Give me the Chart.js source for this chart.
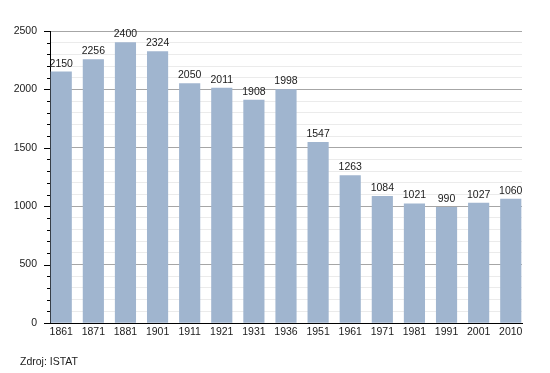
<!DOCTYPE html>
<html><head><meta charset="utf-8">
<script src="https://cdn.jsdelivr.net/npm/chart.js@4/dist/chart.umd.min.js"></script>
<style>html,body{margin:0;padding:0;background:#fff}#w{width:550px;height:373px;position:relative}</style>
</head><body><div id="w"><canvas id="c" width="550" height="373"></canvas></div>
<script>
const categories = ["1861","1871","1881","1901","1911","1921","1931","1936","1951","1961","1971","1981","1991","2001","2010"];
const population = [2150,2256,2400,2324,2050,2011,1908,1998,1547,1263,1084,1021,990,1027,1060];
const yTickLabels = [0,500,1000,1500,2000,2500];
const sourceNote = "Zdroj: ISTAT";

const FONT = "'Liberation Sans', Arial, sans-serif";
const points = population.map((v,i)=>({x:i,y:v}));

const extras = {
  id:'extras',
  afterDatasetsDraw(chart){
    const ctx = chart.ctx, y = chart.scales.y, x = chart.scales.x;
    ctx.save();
    ctx.strokeStyle = '#000'; ctx.lineWidth = 1;
    for (let v = 0; v <= 2500; v += 100) {
      const py = Math.round(y.getPixelForValue(v)) + 0.5;
      const len = (v % 500 === 0) ? 6 : 3;
      ctx.beginPath(); ctx.moveTo(y.right - len, py); ctx.lineTo(y.right, py); ctx.stroke();
    }
    ctx.fillStyle = '#1a1a1a';
    ctx.font = '10.5px ' + FONT;
    ctx.textAlign = 'center'; ctx.textBaseline = 'bottom';
    const meta = chart.getDatasetMeta(0);
    meta.data.forEach((bar,i)=>{
      ctx.fillText(String(population[i]), bar.x, bar.y - 3);
    });
    ctx.textAlign = 'left'; ctx.textBaseline = 'middle';
    ctx.fillText(sourceNote, 20, 362);
    ctx.restore();
  }
};

new Chart(document.getElementById('c'), {
  type: 'bar',
  data: { datasets: [{ data: points, backgroundColor: '#a0b5cf', borderWidth: 0, barThickness: 20.5 }] },
  options: {
    responsive: false, animation: false,
    layout: { padding: { top: 31, right: 28, left: 0, bottom: 0 } },
    plugins: { legend: { display: false }, tooltip: { enabled: false } },
    scales: {
      x: {
        type: 'linear', min: -0.35, max: 14.35, offset: false,
        afterFit(s){ s.height = 50; s.paddingLeft = 0; s.paddingRight = 0; },
        afterBuildTicks(s){ s.ticks = categories.map((c,i)=>({value:i})); },
        ticks: { stepSize: 1, includeBounds: false, autoSkip: false, maxRotation: 0, padding: 3,
          color: '#1a1a1a', font: { family: FONT, size: 10.5 },
          callback: (v)=> categories[v] ?? '' },
        grid: { offset: false, drawOnChartArea: false, drawTicks: false },
        border: { display: true, color: '#000', width: 1 }
      },
      y: {
        min: 0, max: 2500,
        afterFit(s){ s.width = 50; s.paddingTop = 0; s.paddingBottom = 0; },
        afterBuildTicks(s){ const t=[]; for(let v=0; v<=2500; v+=100) t.push({value:v}); s.ticks=t; },
        ticks: { stepSize: 100, autoSkip: false, padding: 13, color: '#1a1a1a', font: { family: FONT, size: 10.5 },
          callback: (v)=> yTickLabels.includes(v) ? String(v) : '' },
        grid: { drawTicks: false, color: (c)=> (c.tick && c.tick.value % 500 === 0) ? '#a6a6a6' : '#ebebeb' },
        border: { display: true, color: '#000', width: 1 }
      }
    }
  },
  plugins: [extras]
});
</script></body></html>
